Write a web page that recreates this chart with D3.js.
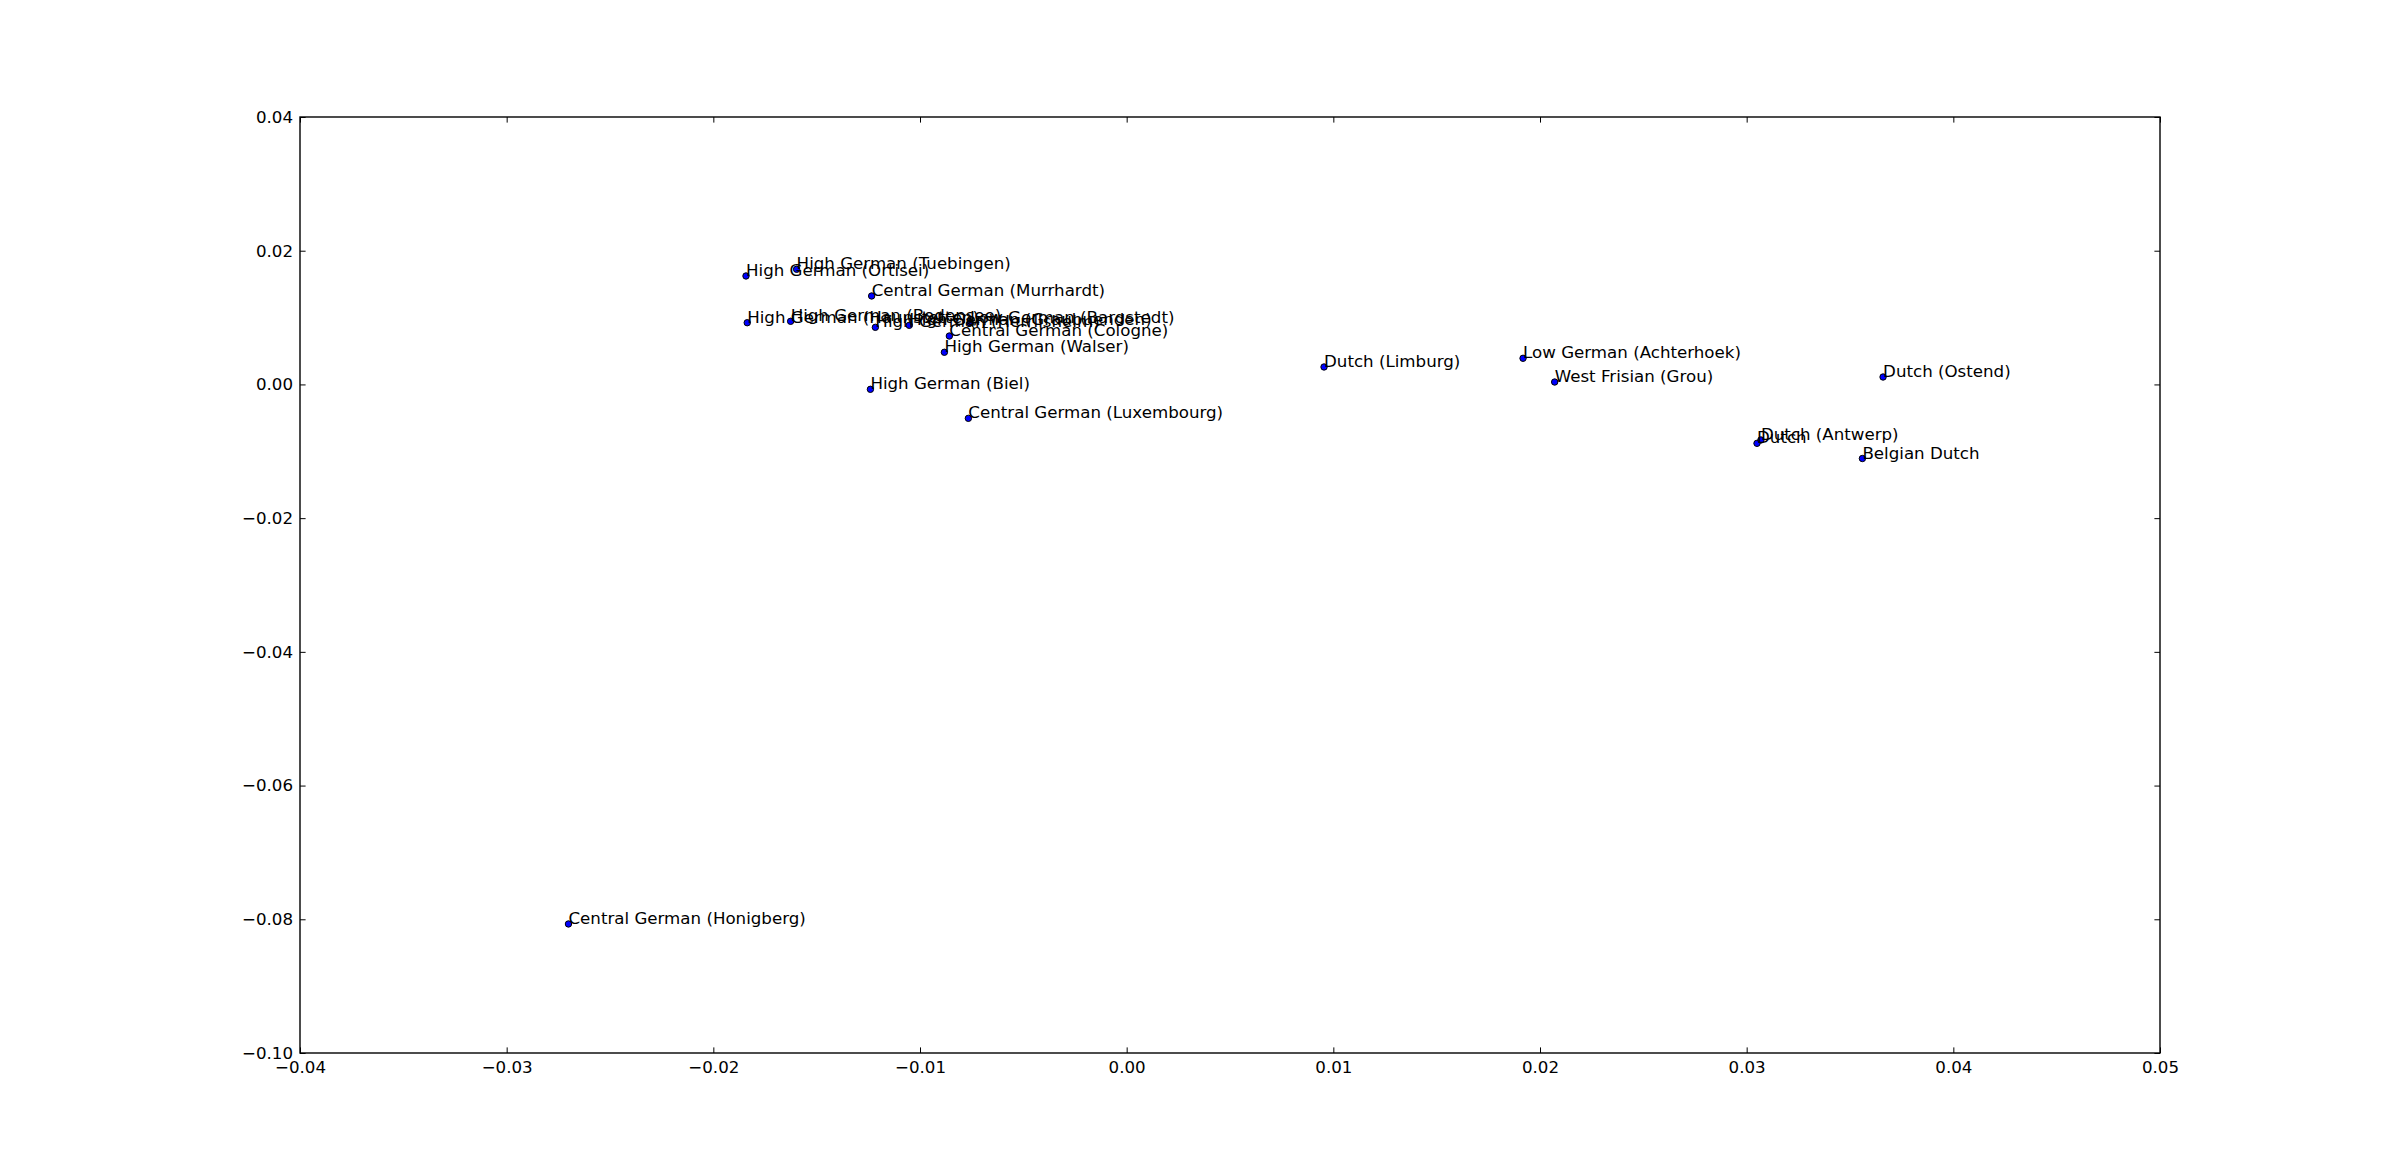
<!DOCTYPE html>
<html>
<head>
<meta charset="utf-8">
<script src="https://cdn.jsdelivr.net/npm/d3@7/dist/d3.min.js"></script>
<style>
  html, body { margin: 0; padding: 0; background: #fff; }
  svg { display: block; }
  text { font-family: "DejaVu Sans", sans-serif; }
</style>
</head>
<body>
<script>
const labels = [
  "High German (Ortisei)", "High German (Tuebingen)", "Central German (Murrhardt)",
  "High German (Haunstetten)", "High German (Bodensee)", "High German (Herrlisheim)",
  "High German (Graubuenden)", "Low German (Bargstedt)", "Central German (Cologne)",
  "High German (Walser)", "High German (Biel)", "Central German (Luxembourg)",
  "Dutch (Limburg)", "Low German (Achterhoek)", "West Frisian (Grou)", "Dutch (Ostend)",
  "Dutch", "Dutch (Antwerp)", "Belgian Dutch", "Central German (Honigberg)"
];
const xValues = [
  -0.01842, -0.01597, -0.01234,
  -0.01836, -0.01626, -0.01216,
  -0.01052, -0.00758, -0.00858,
  -0.00882, -0.01240, -0.00766,
  0.00955, 0.01918, 0.02071, 0.03660,
  0.03050, 0.03069, 0.03560, -0.02701
];
const yValues = [
  0.01622, 0.01722, 0.01323,
  0.00923, 0.00944, 0.00854,
  0.00884, 0.00923, 0.00724,
  0.00481, -0.00073, -0.00507,
  0.00261, 0.00391, 0.00036, 0.00111,
  -0.00881, -0.00831, -0.01108, -0.08070
];
const xTicks = [-0.04, -0.03, -0.02, -0.01, 0.00, 0.01, 0.02, 0.03, 0.04, 0.05];
const yTicks = [0.04, 0.02, 0.00, -0.02, -0.04, -0.06, -0.08, -0.10];

(function () {
const W = 2400, H = 1170;
const pLeft = 300, pRight = 2160, pTop = 117, pBottom = 1053;
const fs = 16.67;

const svg = d3.select("body").append("svg").attr("width", W).attr("height", H);

const x = d3.scaleLinear().domain([-0.04, 0.05]).range([pLeft, pRight]);
const y = d3.scaleLinear().domain([-0.10, 0.04]).range([pBottom, pTop]);
const fmt = d3.format(".2f");

const tick = 5.6;
function styleAxis(g, showLabels) {
  g.select(".domain").remove();
  g.selectAll(".tick line").attr("stroke", "#000").attr("stroke-width", 1);
  g.selectAll(".tick text").attr("fill", "#000").style("font-size", fs + "px")
    .style("font-family", '"DejaVu Sans", sans-serif');
  if (!showLabels) g.selectAll(".tick text").remove();
}

svg.append("g").attr("transform", `translate(0,${pBottom})`)
  .call(d3.axisBottom(x).tickValues(xTicks).tickFormat(fmt).tickSize(-tick).tickPadding(8))
  .call(g => styleAxis(g, true));
svg.append("g").attr("transform", `translate(0,${pTop})`)
  .call(d3.axisTop(x).tickValues(xTicks).tickSize(-tick))
  .call(g => styleAxis(g, false));
svg.append("g").attr("transform", `translate(${pLeft},0)`)
  .call(d3.axisLeft(y).tickValues(yTicks).tickFormat(fmt).tickSize(-tick).tickPadding(7))
  .call(g => styleAxis(g, true));
svg.append("g").attr("transform", `translate(${pRight},0)`)
  .call(d3.axisRight(y).tickValues(yTicks).tickSize(-tick))
  .call(g => styleAxis(g, false));

svg.append("rect")
  .attr("x", pLeft).attr("y", pTop)
  .attr("width", pRight - pLeft).attr("height", pBottom - pTop)
  .attr("fill", "none").attr("stroke", "#000").attr("stroke-width", 1.4);

const data = labels.map((l, i) => ({ label: l, x: xValues[i], y: yValues[i] }));

svg.append("g").selectAll("circle").data(data).join("circle")
  .attr("cx", d => x(d.x)).attr("cy", d => y(d.y)).attr("r", 3.2)
  .attr("fill", "#0000ff").attr("stroke", "#000").attr("stroke-width", 1);

svg.append("g").selectAll("text").data(data).join("text")
  .attr("x", d => x(d.x)).attr("y", d => y(d.y))
  .attr("fill", "#000").style("font-size", fs + "px")
  .text(d => d.label);
})();
</script>
</body>
</html>
